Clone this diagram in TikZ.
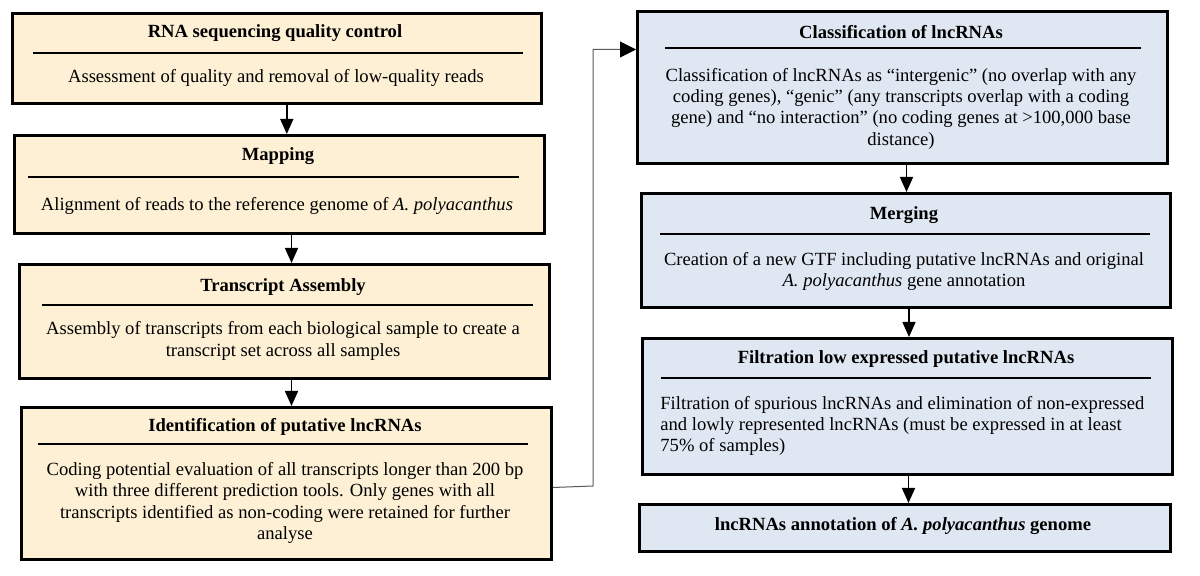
\documentclass[tikz,border=0pt]{standalone}
\usepackage{fontspec}
\setmainfont{Liberation Serif}
\usetikzlibrary{arrows.meta}
\definecolor{beige}{HTML}{FDF0D5}
\definecolor{lblue}{HTML}{DFE7F2}
\definecolor{conngray}{HTML}{5A5A5A}
\begin{document}
\begin{tikzpicture}[x=0.5pt,y=-0.5pt,
  box/.style={draw=black,line width=1.5pt,anchor=north west,inner sep=0pt},
  lbox/.style={box,fill=beige},
  rbox/.style={box,fill=lblue},
  ttl/.style={inner sep=0pt,font=\fontsize{9.3}{10.65}\selectfont\bfseries},
  body/.style={inner sep=0pt,align=center,font=\fontsize{9.3}{10.65}\selectfont},
  sepline/.style={line width=1.2pt},
  arr/.style={line width=0.75pt,-{Triangle[length=7.5pt,width=6.5pt]}},
  conn/.style={draw=conngray,line width=0.5pt},
  connhead/.style={line width=0.5pt,-{Triangle[length=8pt,width=8pt]}}]
\useasboundingbox (0,0) rectangle (1200,576);
\fill[white] (0,0) rectangle (1200,576);

% ---- left column ----
\node[lbox,minimum width=264.6pt,minimum height=45pt] (b1) at (10.7,12) {};
\node[ttl] (t1) at (275,33) {RNA sequencing quality control};
\draw[sepline] (33,53) -- (523,53);
\node[body] (d1) at (276,78) {Assessment of quality and removal of low-quality reads};

\node[lbox,minimum width=265pt,minimum height=49pt] (b2) at (13,134) {};
\node[ttl] (t2) at (278,156) {Mapping};
\draw[sepline] (28,177) -- (519,177);
\node[body] (d2) at (277,206) {Alignment of reads to the reference genome of \textit{A. polyacanthus}};

\node[lbox,minimum width=265pt,minimum height=57pt] (b3) at (18,263) {};
\node[ttl] (t3) at (283,287) {Transcript Assembly};
\draw[sepline] (42,305) -- (533,305);
\node[body] (d3) at (283,341) {Assembly of transcripts from each biological sample to create a\\transcript set across all samples};

\node[lbox,minimum width=265pt,minimum height=76pt] (b4) at (20,406) {};
\node[ttl] (t4) at (285,427) {Identification of putative lncRNAs};
\draw[sepline] (38,444) -- (528,444);
\node[body] (d4) at (285,503) {Coding potential evaluation of all transcripts longer than 200 bp\\with three different prediction tools. Only genes with all\\transcripts identified as non-coding were retained for further\\analyse};

% ---- right column ----
\node[rbox,minimum width=265pt,minimum height=76pt] (b5) at (636,10) {};
\node[ttl] (t5) at (901,32) {Classification of lncRNAs};
\draw[sepline] (665,48) -- (1141,48);
\node[body] (d5) at (901,108.5) {Classification of lncRNAs as “intergenic” (no overlap with any\\coding genes), “genic” (any transcripts overlap with a coding\\gene) and “no interaction” (no coding genes at >100,000 base\\distance)};

\node[rbox,minimum width=264.5pt,minimum height=57pt] (b6) at (640,192) {};
\node[ttl] (t6) at (904,215) {Merging};
\draw[sepline] (660,234) -- (1150,234);
\node[body] (d6) at (904,271.5) {Creation of a new GTF including putative lncRNAs and original\\\textit{A. polyacanthus} gene annotation};

\node[rbox,minimum width=265pt,minimum height=68pt] (b7) at (641,337) {};
\node[ttl] (t7) at (906,359) {Filtration low expressed putative lncRNAs};
\draw[sepline] (661,378) -- (1151,378);
\node[body,align=left,anchor=west] (d7) at (660,426) {Filtration of spurious lncRNAs and elimination of non-expressed\\and lowly represented lncRNAs (must be expressed in at least\\75\% of samples)};

\node[rbox,minimum width=265.5pt,minimum height=23.5pt] (b8) at (638,503) {};
\node[ttl] (t8) at (903,526) {lncRNAs annotation of \textit{A. polyacanthus} genome};

% ---- arrows ----
\path (b1.south) ++(10,0) coordinate (a1);
\draw[arr] (a1) -- (a1 |- b2.north);
\path (b2.south) ++(12,0) coordinate (a2);
\draw[arr] (a2) -- (a2 |- b3.north);
\path (b3.south) ++(7,0) coordinate (a3);
\draw[arr] (a3) -- (a3 |- b4.north);

\path (b5.south) ++(4,0) coordinate (a5);
\draw[arr] (a5) -- (a5 |- b6.north);
\path (b6.south) ++(3,0) coordinate (a6);
\draw[arr] (a6) -- (a6 |- b7.north);
\path (b7.south) ++(1,0) coordinate (a7);
\draw[arr] (a7) -- (a7 |- b8.north);

% ---- connector from left to right column ----
\path (b4.east) ++(0,4) coordinate (c0);
\path (b5.west) ++(0,-38) coordinate (c2);
\draw[conn] (c0) -- (593,486) coordinate (c1) |- ([xshift=-8pt]c2);
\draw[connhead] ([xshift=-8pt]c2) -- (c2);
\end{tikzpicture}
\end{document}
